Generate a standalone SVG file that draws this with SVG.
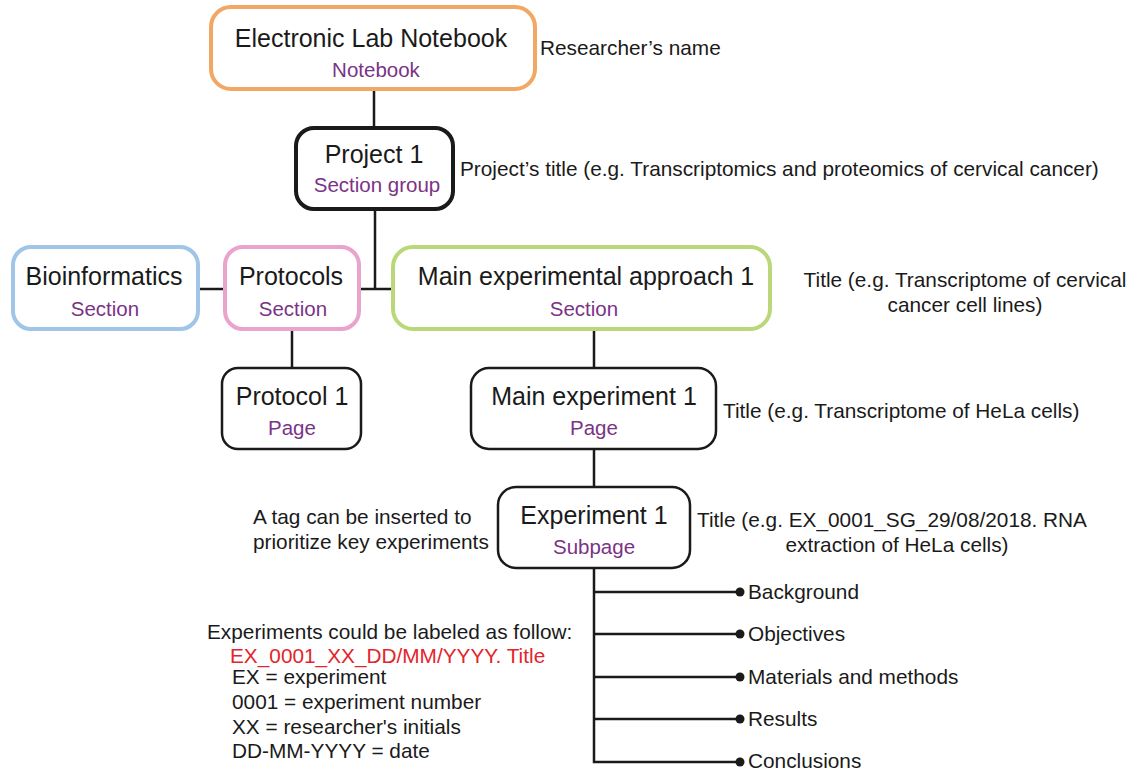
<svg xmlns="http://www.w3.org/2000/svg" width="1145" height="773" viewBox="0 0 1145 773">
<style>
text{font-family:"Liberation Sans",Arial,Helvetica,sans-serif;fill:#1a1a1a}
.t{font-size:25px;text-anchor:middle}
.s{font-size:20.5px;text-anchor:middle;fill:#7b3386}
.l{font-size:20.8px}
.lm{font-size:20.8px;text-anchor:middle}
.red{fill:#e3252b}
.box{fill:#fff;stroke-linejoin:round}
.thick{stroke-width:4}
.thin{stroke:#1a1a1a;stroke-width:2.5}
.c{stroke:#1a1a1a;stroke-width:2.5;fill:none}
</style>
<rect width="1145" height="773" fill="#fff"/>
<g id="connectors">
<line class="c" x1="374" y1="89" x2="374" y2="128"/>
<line class="c" x1="375" y1="209" x2="375" y2="289"/>
<line class="c" x1="198" y1="289" x2="225" y2="289"/>
<line class="c" x1="359" y1="289" x2="393" y2="289"/>
<line class="c" x1="292" y1="329" x2="292" y2="368"/>
<line class="c" x1="594" y1="329" x2="594" y2="368"/>
<line class="c" x1="594" y1="449" x2="594" y2="487"/>
<path class="c" d="M594 568 V762 H740 M594 592 H740 M594 634 H740 M594 677 H740 M594 719 H740"/>
<g fill="#1a1a1a">
<circle cx="740" cy="592" r="4.5"/>
<circle cx="740" cy="634" r="4.5"/>
<circle cx="740" cy="677" r="4.5"/>
<circle cx="740" cy="719" r="4.5"/>
<circle cx="740" cy="762" r="4.5"/>
</g>
</g>
<g id="eln">
<rect class="box thick" x="211" y="7" width="324" height="82" rx="20" stroke="#f0a864"/>
<text class="t" x="371" y="47">Electronic Lab Notebook</text>
<text class="s" x="376" y="77">Notebook</text>
</g>
<g id="project1">
<rect class="box thick" x="296" y="128" width="157" height="81" rx="18" stroke="#1a1a1a"/>
<text class="t" x="374" y="163">Project 1</text>
<text class="s" x="377" y="192">Section group</text>
</g>
<g id="bioinformatics">
<rect class="box thick" x="13" y="247" width="185" height="82" rx="18" stroke="#9fc5e8"/>
<text class="t" x="104" y="285">Bioinformatics</text>
<text class="s" x="105" y="316">Section</text>
</g>
<g id="protocols">
<rect class="box thick" x="225" y="247" width="134" height="82" rx="18" stroke="#eaa3cd"/>
<text class="t" x="291" y="285">Protocols</text>
<text class="s" x="293" y="316">Section</text>
</g>
<g id="mainapproach">
<rect class="box thick" x="393" y="247" width="377" height="82" rx="20" stroke="#bad879"/>
<text class="t" x="586" y="285">Main experimental approach 1</text>
<text class="s" x="584" y="316">Section</text>
</g>
<g id="protocol1">
<rect class="box thin" x="222" y="368" width="139" height="81" rx="16"/>
<text class="t" x="292" y="405">Protocol 1</text>
<text class="s" x="292" y="435">Page</text>
</g>
<g id="mainexp1">
<rect class="box thin" x="471" y="368" width="245" height="81" rx="18"/>
<text class="t" x="594" y="405">Main experiment 1</text>
<text class="s" x="594" y="435">Page</text>
</g>
<g id="experiment1">
<rect class="box thin" x="498" y="487" width="192" height="81" rx="18"/>
<text class="t" x="594" y="524">Experiment 1</text>
<text class="s" x="594" y="554">Subpage</text>
</g>
<g id="annotations">
<text class="l" x="540" y="55">Researcher’s name</text>
<text class="l" x="460" y="176">Project’s title (e.g. Transcriptomics and proteomics of cervical cancer)</text>
<text class="lm" x="965" y="287">Title (e.g. Transcriptome of cervical</text>
<text class="lm" x="965" y="312">cancer cell lines)</text>
<text class="l" x="723" y="418">Title (e.g. Transcriptome of HeLa cells)</text>
<text class="l" x="697" y="527">Title (e.g. EX_0001_SG_29/08/2018. RNA</text>
<text class="lm" x="897" y="552">extraction of HeLa cells)</text>
<text class="l" x="253" y="524">A tag can be inserted to</text>
<text class="l" x="253" y="549">prioritize key experiments</text>
<text class="l" x="748" y="599">Background</text>
<text class="l" x="748" y="641">Objectives</text>
<text class="l" x="748" y="684">Materials and methods</text>
<text class="l" x="748" y="726">Results</text>
<text class="l" x="748" y="768">Conclusions</text>
<text class="l" x="207" y="639">Experiments could be labeled as follow:</text>
<text class="l red" x="230" y="663">EX_0001_XX_DD/MM/YYYY. Title</text>
<text class="l" x="232" y="684">EX = experiment</text>
<text class="l" x="232" y="709">0001 = experiment number</text>
<text class="l" x="232" y="734">XX = researcher's initials</text>
<text class="l" x="232" y="758">DD-MM-YYYY = date</text>
</g>
</svg>
